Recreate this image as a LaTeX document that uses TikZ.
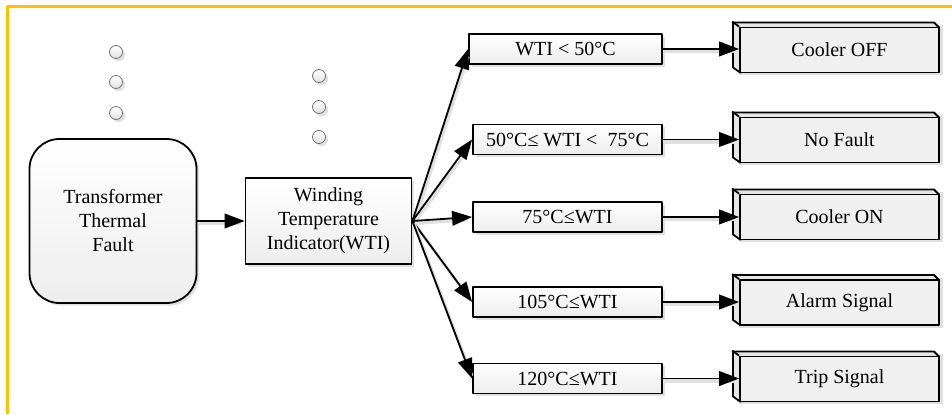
\documentclass[tikz,border=0pt]{standalone}
\usepackage{fontspec}
\setmainfont{Liberation Serif}
\usetikzlibrary{arrows.meta,shadows,calc}
\definecolor{frameyellow}{RGB}{255,192,0}

\begin{document}
\begin{tikzpicture}[x=0.75pt,y=-0.75pt, line width=1.35pt, line join=round,
  every node/.style={font=\fontsize{15}{18}\selectfont},
  softshadow/.style={drop shadow={shadow xshift=2pt, shadow yshift=-2pt, fill=black, opacity=0.12}},
  procbox/.style={draw, top color=white, bottom color=black!7, softshadow, align=center, inner sep=0pt},
  condbox/.style={procbox, minimum width=141.75pt, minimum height=22.5pt},
  outbox/.style={draw, fill=black!6, minimum width=149.25pt, minimum height=33.75pt, inner sep=0pt},
  dotmark/.style={circle, draw=black!55, line width=0.6pt, top color=white, bottom color=black!12,
    minimum size=9.75pt, inner sep=0pt, softshadow},
  flow/.style={-{Triangle[length=15pt,width=11pt]},
    preaction={draw=black!12, line width=2.5pt, -, shorten >=4pt, transform canvas={shift={(1.2pt,-1.8pt)}}}},
]
\useasboundingbox (0,0) rectangle (952,414);

% frame lines along the top and left edges
\draw[frameyellow, line width=2.25pt] (7,414) -- (7,6) -- (952,6);

% ellipsis dots
\foreach \y [count=\i] in {52,82,113} \node[dotmark] (da\i) at (116,\y) {};
\foreach \y [count=\i] in {76,107,137} \node[dotmark] (db\i) at (319,\y) {};

% source and indicator
\node[procbox, rounded corners=22.5pt, minimum width=125.25pt, minimum height=123pt]
  (ttf) at (113,221) {Transformer\\Thermal\\Fault};
\node[procbox, minimum width=124.5pt, minimum height=64.5pt]
  (wti) at (328.5,221) {Winding\\Temperature\\Indicator(WTI)};

% temperature conditions
\node[condbox, minimum width=144.75pt] (c1) at (565.5,49) {WTI < 50°C};
\node[condbox] (c2) at (567.5,139.5) {50°C≤ WTI <\ \ 75°C};
\node[condbox] (c3) at (567.5,217) {75°C≤WTI};
\node[condbox] (c4) at (567.5,302) {105°C≤WTI};
\node[condbox] (c5) at (567.5,378.5) {120°C≤WTI};

% actions (3-D boxes)
\foreach \n/\y/\t in {o1/50/Cooler OFF, o2/140/No Fault, o3/217/Cooler ON, o4/302.5/Alarm Signal, o5/379/Trip Signal} {
  \fill[black, opacity=0.12] ($(737,\y)+(2,-25)$) rectangle ($(941,\y)+(2,25)$);
  \filldraw[fill=black!10]
    ($(740,\y)+(0,22.5)$) -- ++(-7,-5) -- ++(0,-45) -- ++(201,0) -- ++(5,5) -- ($(939,\y)+(0,-22.5)$) -- cycle;
  \node[outbox] (\n) at (839.5,\y) {\t};
  \draw (\n.north west) -- ++(-7,-5);
}

% connectors
\draw[flow] (ttf) -- (wti);
\foreach \i in {1,...,5} {
  \draw[flow] (wti.east) -- (c\i.west);
  \draw[flow] (c\i) -- (o\i.west |- c\i);
}
\end{tikzpicture}
\end{document}
